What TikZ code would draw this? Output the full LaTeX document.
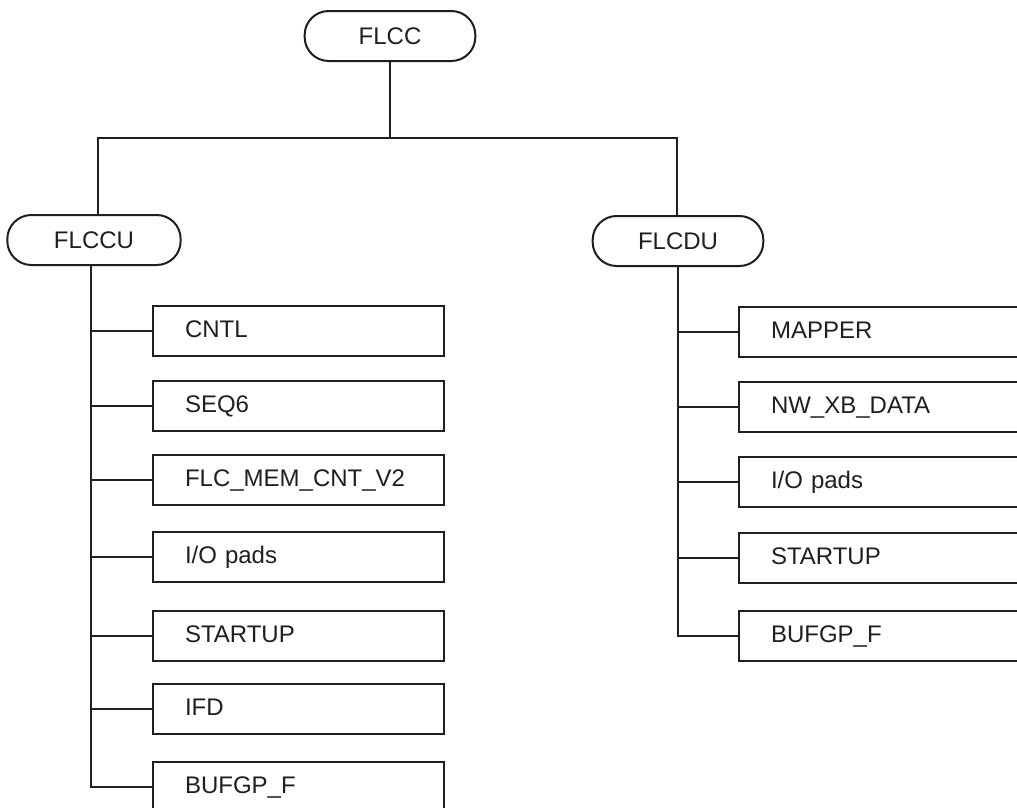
\documentclass[tikz,border=0pt]{standalone}
\usepackage{fontspec}
\setmainfont{Liberation Sans}
\begin{document}
\begin{tikzpicture}[x=0.75pt,y=-0.75pt,
 every node/.style={font=\fontsize{18}{21}\selectfont, text=black!88},
 pill/.style={draw=black!88, line width=1.5pt, rounded corners=18pt, minimum width=128pt, minimum height=37.5pt, inner sep=0pt},
 leaf/.style={draw=black!88, line width=1.5pt, anchor=west, minimum height=38pt, text width=170pt, inner xsep=24pt, inner ysep=0pt, text height=13pt, text depth=4pt, align=left},
 wide/.style={leaf, text width=260pt},
 conn/.style={draw=black!88, line width=1.5pt}]
\useasboundingbox (0,0) rectangle (1017,807);
\clip (0,0) rectangle (1017,807);
\fill[white] (0,0) rectangle (1017,807);
% top nodes
\node[pill] (flcc) at (390,36) {FLCC};
\node[pill, minimum width=130pt] (flccu) at (94,240) {FLCCU};
\node[pill] (flcdu) at (678,241) {FLCDU};
\coordinate (bus) at (390,138);
\draw[conn] (flcc.south) -- (bus);
\draw[conn] ([xshift=3pt]flccu.north) |- (bus) -| ([xshift=-1pt]flcdu.north);
% left column
\node[leaf] (l1) at (152,331) {CNTL};
\node[leaf] (l2) at (152,406) {SEQ6};
\node[leaf] (l3) at (152,480) {FLC\_MEM\_CNT\_V2};
\node[leaf] (l4) at (152,557) {I/O pads};
\node[leaf] (l5) at (152,636) {STARTUP};
\node[leaf] (l6) at (152,709) {IFD};
\node[leaf] (l7) at (152,787) {BUFGP\_F};
\draw[conn] ([xshift=-2pt]flccu.south) |- (l7.west);
\foreach \i in {1,...,6} \draw[conn] ([xshift=-2pt]flccu.south |- l\i.west) -- (l\i.west);
% right column
\node[wide] (r1) at (738,332) {MAPPER};
\node[wide] (r2) at (738,407) {NW\_XB\_DATA};
\node[wide] (r3) at (738,482) {I/O pads};
\node[wide] (r4) at (738,558) {STARTUP};
\node[wide] (r5) at (738,636) {BUFGP\_F};
\draw[conn] (flcdu.south) |- (r5.west);
\foreach \i in {1,...,4} \draw[conn] (flcdu.south |- r\i.west) -- (r\i.west);
\end{tikzpicture}
\end{document}
